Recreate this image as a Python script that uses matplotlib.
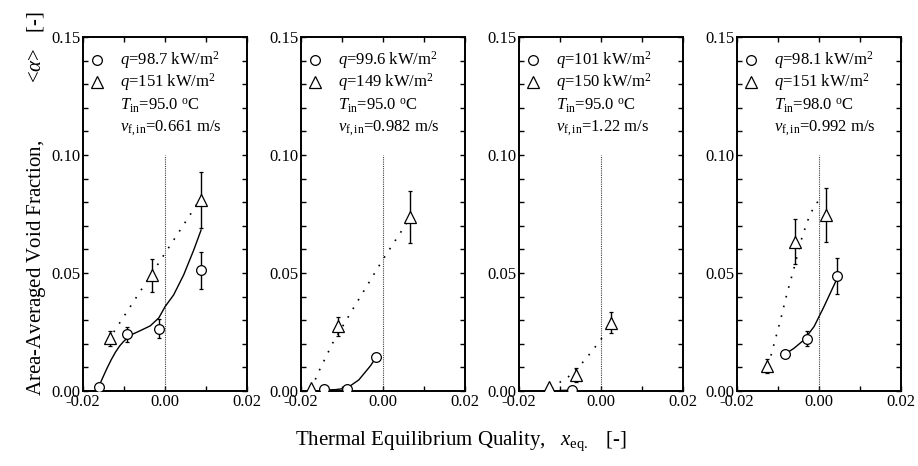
import matplotlib
matplotlib.use('Agg')
import matplotlib.pyplot as plt
from matplotlib.ticker import MultipleLocator, FormatStrFormatter

plt.rcParams['font.family'] = 'Liberation Serif'
plt.rcParams['mathtext.fontset'] = 'custom'
plt.rcParams['mathtext.rm'] = 'Liberation Serif'
plt.rcParams['mathtext.it'] = 'Liberation Serif:italic'
plt.rcParams['mathtext.bf'] = 'Liberation Serif:bold'
plt.rcParams['axes.unicode_minus'] = False

# ---- data ----
# panel 1
c_x1 = [-0.0162, -0.0093, -0.0015, 0.0088]
c_y1 = [0.0017, 0.0240, 0.0264, 0.0511]
c_e1 = [0.0008, 0.0033, 0.0040, 0.0077]
t_x1 = [-0.0133, -0.0031, 0.0088]
t_y1 = [0.0223, 0.0490, 0.0810]
t_e1 = [0.0031, 0.0070, 0.0120]
fit_x1 = [-0.0162, -0.0152, -0.01415, -0.0131, -0.0121, -0.0111, -0.0101, -0.0090, -0.0080,
          -0.0060, -0.0036, -0.0015, 0.0, 0.0021, 0.00455, 0.0070, 0.0088]
fit_y1 = [0.0017, 0.0056, 0.0096, 0.0133, 0.0164, 0.0190, 0.0210, 0.0227, 0.0240,
          0.0256, 0.0276, 0.0310, 0.0357, 0.0407, 0.0492, 0.0597, 0.0682]
dot_x1 = [-0.0125, 0.0085]
dot_y1 = [0.0250, 0.0810]

# panel 2
c_x2 = [-0.0143, -0.0088, -0.0017]
c_y2 = [0.0007, 0.0008, 0.0143]
c_e2 = [0.0005, 0.0010, 0.0008]
t_x2 = [-0.0176, -0.0110, 0.0067]
t_y2 = [0.0012, 0.0275, 0.0736]
t_e2 = [0.0008, 0.0040, 0.0110]
fit_x2 = [-0.0142, -0.0115, -0.0088, -0.0059, -0.0039, -0.0030, -0.0017]
fit_y2 = [0.0004, 0.0006, 0.0012, 0.0047, 0.0089, 0.0108, 0.0143]
dot_x2 = [-0.0175, -0.0153, -0.0123, -0.0076, 0.0, 0.0067]
dot_y2 = [0.0010, 0.0096, 0.0202, 0.0340, 0.0558, 0.0736]

# panel 3
c_x3 = [-0.0070]
c_y3 = [0.0004]
c_e3 = [0.0008]
t_x3 = [-0.0127, -0.0062, 0.0024]
t_y3 = [0.0016, 0.0068, 0.0290]
t_e3 = [0.0010, 0.0030, 0.0043]
fit_x3 = [-0.0100, -0.0070]
fit_y3 = [0.0002, 0.0004]
dot_x3 = [-0.0120, -0.0111, -0.0079, -0.0052, -0.0026, -0.0001, 0.0012]
dot_y3 = [0.0010, 0.0025, 0.0061, 0.0106, 0.0160, 0.0216, 0.0250]

# panel 4
c_x4 = [-0.0084, -0.0030, 0.0045]
c_y4 = [0.0155, 0.0222, 0.0486]
c_e4 = [0.0010, 0.0031, 0.0076]
t_x4 = [-0.01265, -0.0059, 0.0018]
t_y4 = [0.0106, 0.0633, 0.0747]
t_e4 = [0.0028, 0.0094, 0.0114]
fit_x4 = [-0.0084, -0.0061, -0.0037, -0.0012, 0.0012, 0.0045]
fit_y4 = [0.0155, 0.0181, 0.0216, 0.0273, 0.0357, 0.0480]
dot_x4 = [-0.0125, -0.0118, -0.0094, -0.0078, -0.0061, -0.0041, -0.0024, -0.0008, 0.0010]
dot_y4 = [0.0110, 0.0145, 0.0300, 0.0414, 0.0520, 0.0654, 0.0739, 0.0795, 0.0815]

q_low = ['98.7', '99.6', '101', '98.1']
q_high = ['151', '149', '150', '151']
T_in = ['95.0', '95.0', '95.0', '98.0']
v_in = ['0.661', '0.982', '1.22', '0.992']

panels = [
    (c_x1, c_y1, c_e1, t_x1, t_y1, t_e1, fit_x1, fit_y1, dot_x1, dot_y1),
    (c_x2, c_y2, c_e2, t_x2, t_y2, t_e2, fit_x2, fit_y2, dot_x2, dot_y2),
    (c_x3, c_y3, c_e3, t_x3, t_y3, t_e3, fit_x3, fit_y3, dot_x3, dot_y3),
    (c_x4, c_y4, c_e4, t_x4, t_y4, t_e4, fit_x4, fit_y4, dot_x4, dot_y4),
]

W, H = 918, 466
fig = plt.figure(figsize=(W / 100, H / 100), dpi=100)
lefts = [83, 301, 519, 737]

for i, (cx, cy, ce, tx, ty, te, fx, fy, dx, dy) in enumerate(panels):
    ax = fig.add_axes([lefts[i] / W, 1 - 391 / H, 164 / W, 354 / H])
    ax.set_xlim(-0.02, 0.02)
    ax.set_ylim(0.0, 0.15)

    ax.plot([0, 0], [0, 0.10], color='0.25', lw=0.8, ls=(0, (1, 1)))
    ax.plot(fx, fy, color='k', lw=1.0)
    ax.plot(dx, dy, color='k', lw=1.2, ls=(0, (1, 5)))

    ax.errorbar(cx, cy, yerr=ce, fmt='o', ms=7, mfc='white', mec='k', mew=0.9,
                ecolor='k', elinewidth=1.0, capsize=1.5, capthick=1.0, zorder=3)
    ax.errorbar(tx, ty, yerr=te, fmt='^', ms=8, mfc='white', mec='k', mew=0.9,
                ecolor='k', elinewidth=1.0, capsize=1.5, capthick=1.0, zorder=3)

    # legend written by hand
    ax.plot([0.083], [0.935], 'o', ms=7, mfc='white', mec='k', mew=0.9,
            transform=ax.transAxes, clip_on=False)
    ax.plot([0.083], [0.874], '^', ms=8, mfc='white', mec='k', mew=0.9,
            transform=ax.transAxes, clip_on=False)
    tx0 = 0.225
    ax.text(tx0, 0.935, r'$q$=' + q_low[i] + r' kW/m$^2$', transform=ax.transAxes,
            fontsize=12, va='center')
    ax.text(tx0, 0.874, r'$q$=' + q_high[i] + r' kW/m$^2$', transform=ax.transAxes,
            fontsize=12, va='center')
    ax.text(tx0, 0.805, r'$T_{\rm in}$=' + T_in[i] + r' $^{\rm o}$C', transform=ax.transAxes,
            fontsize=12, va='center')
    ax.text(tx0, 0.742, r'$v_{\rm f,in}$=' + v_in[i] + ' m/s', transform=ax.transAxes,
            fontsize=12, va='center')

    ax.xaxis.set_major_locator(MultipleLocator(0.02))
    ax.xaxis.set_minor_locator(MultipleLocator(0.01))
    ax.yaxis.set_major_locator(MultipleLocator(0.05))
    ax.yaxis.set_minor_locator(MultipleLocator(0.01))
    ax.xaxis.set_major_formatter(FormatStrFormatter('%.2f'))
    ax.yaxis.set_major_formatter(FormatStrFormatter('%.2f'))
    ax.tick_params(which='both', direction='in', top=True, right=True,
                   length=3.5, width=1.0, labelsize=12, pad=2)
    for s in ax.spines.values():
        s.set_linewidth(1.4)

fig.text(0.040, 1 - 396 / H, r'Area-Averaged Void Fraction,           <$\alpha$>   [-]',
         rotation=90, ha='center', va='bottom', fontsize=15)
fig.text(0.502, 0.054, r'Thermal Equilibrium Quality,   $x_{\rm eq.}$   [-]',
         ha='center', va='center', fontsize=15)

fig.savefig('out.png', dpi=100)
